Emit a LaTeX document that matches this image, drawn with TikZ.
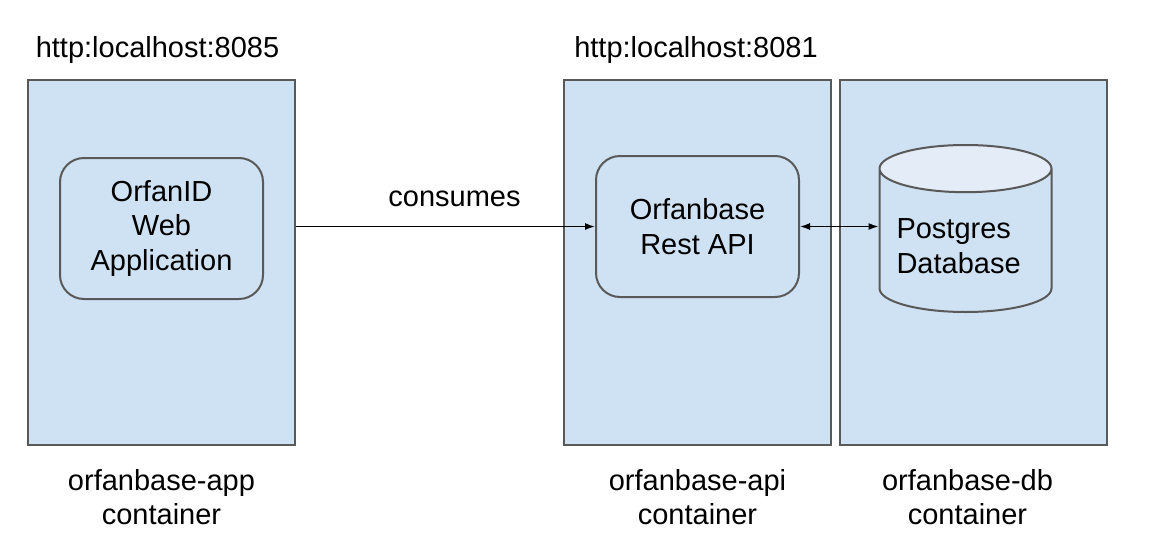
\documentclass[tikz,border=0pt]{standalone}
\usepackage{fontspec}
\setmainfont{Liberation Sans}
\usetikzlibrary{arrows.meta,shapes.geometric,positioning}

\definecolor{boxblue}{RGB}{207,226,243}
\definecolor{topblue}{RGB}{227,236,247}
\definecolor{edgegray}{RGB}{89,89,89}

\tikzset{
  container/.style={draw=edgegray,line width=1pt,fill=boxblue,inner sep=0pt,
    minimum width=133.5pt,minimum height=182.5pt},
  appbox/.style={draw=edgegray,line width=1pt,fill=boxblue,rounded corners=12pt,
    minimum width=101.5pt,minimum height=70.5pt,align=center},
  dbshape/.style={cylinder,shape border rotate=90,aspect=0.3,draw=edgegray,line width=1pt,
    cylinder uses custom fill,cylinder body fill=boxblue,cylinder end fill=topblue,
    minimum width=86pt,minimum height=83.5pt,text width=69pt,align=left},
  caption/.style={align=center},
  link/.style={line width=0.7pt,-{Latex[length=5pt,width=3.5pt]}}
}

\begin{document}
\begin{tikzpicture}[x=0.5pt,y=-0.5pt]
\fontsize{14.5}{17.25}\selectfont
\useasboundingbox (0,0) rectangle (1158,552);

% the three containers
\node[container] (appc) at (161.5,262.5) {};
\node[container] (apic) at (697.5,262.5) {};
\node[container] (dbc) at (973.5,262.5) {};

% what runs inside them
\node[appbox] (web) at (161.5,228.5) {OrfanID\\Web\\Application};
\node[appbox] (rest) at (697.5,226.5) {Orfanbase\\Rest API};
\node[dbshape,anchor=shape center] (db) at (965.5,228.5) {Postgres\\Database};

% urls
\node[anchor=base] (appurl) at (157.5,57) {http:localhost:8085};
\node[anchor=base] (apiurl) at (696,57) {http:localhost:8081};

% container names
\node[caption,below=6.5pt of appc] (appname) {orfanbase-app\\container};
\node[caption,below=6.5pt of apic] (apiname) {orfanbase-api\\container};
\node[caption,below=6.5pt of dbc,xshift=-3pt] (dbname) {orfanbase-db\\container};

\draw[link] (appc.east |- rest.west) -- node[above=4.5pt,pos=0.53] (uses) {consumes} (rest.west);
\draw[line width=0.7pt,{Latex[length=5pt,width=3.5pt]}-{Latex[length=5pt,width=3.5pt]}]
  (rest.east) -- (rest.east -| db.west);
\end{tikzpicture}
\end{document}
